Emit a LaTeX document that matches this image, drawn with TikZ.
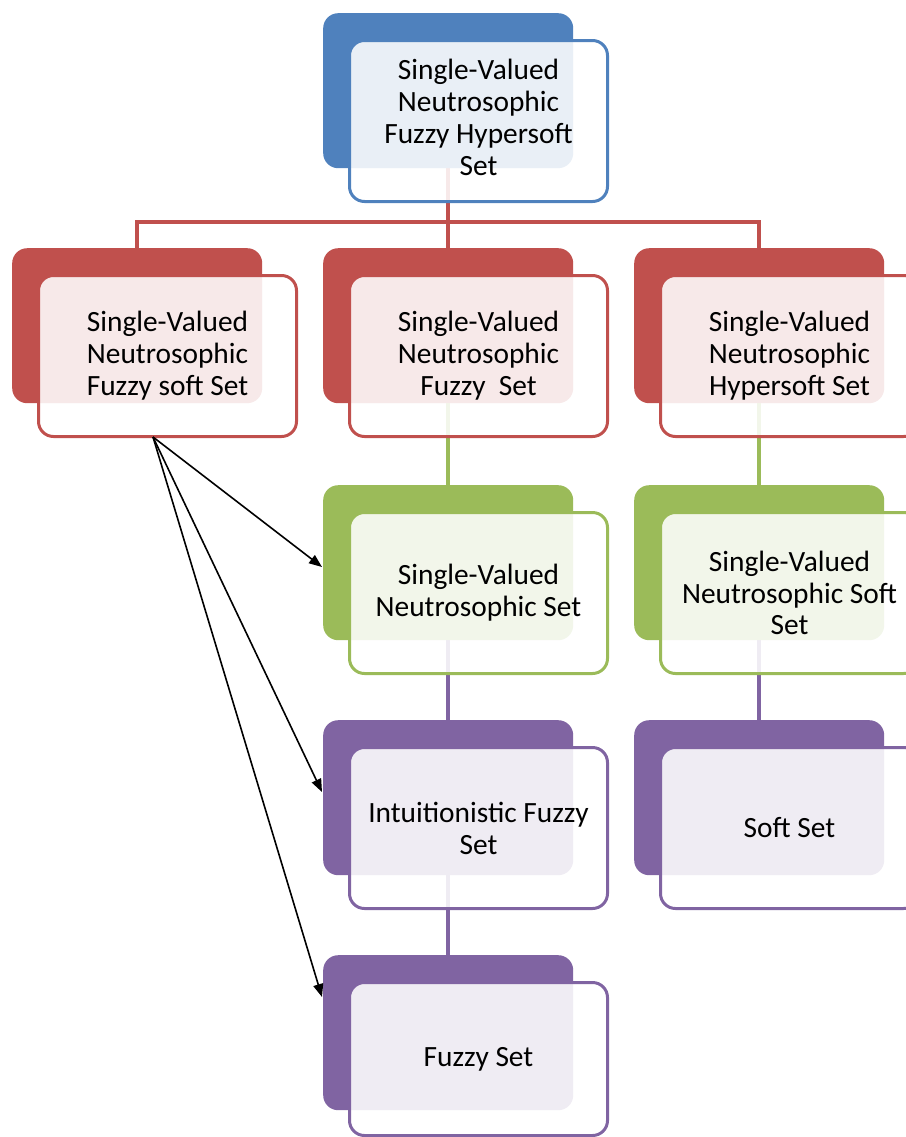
\documentclass[tikz,border=0pt]{standalone}
\usepackage{fontspec}
\setmainfont{Carlito}
\usetikzlibrary{arrows.meta}
\pgfdeclarelayer{bg}
\pgfsetlayers{bg,main}
\definecolor{cblue}{HTML}{4F81BD}
\definecolor{cred}{HTML}{C0504D}
\definecolor{cgreen}{HTML}{9BBB59}
\definecolor{cpurple}{HTML}{8064A2}
\tikzset{
  backbox/.style={rectangle, rounded corners=15bp, minimum width=250bp, minimum height=155bp,
    anchor=north west, inner sep=0pt, fill=#1},
  frontbox/.style={rectangle, rounded corners=15bp, minimum width=258bp, minimum height=161bp,
    anchor=north west, inner sep=0pt, draw=#1, line width=3bp, fill=white, fill opacity=0.88,
    text opacity=1, text=black, align=center, font=\fontsize{29.5}{32}\selectfont},
  link/.style={line width=3.5bp, draw=#1},
  relarrow/.style={line width=1.6bp, black, -{Triangle[length=13bp,width=10bp]}}
}
\begin{document}
\begin{tikzpicture}[x=1bp,y=-1bp]
\useasboundingbox (0,0) rectangle (906,1137);
\clip (0,0) rectangle (906,1137);
% back boxes
\node[backbox=cblue]   (b1)  at (323,13)  {};
\node[backbox=cred]    (b21) at (12,248)  {};
\node[backbox=cred]    (b22) at (323,248) {};
\node[backbox=cred]    (b23) at (634,248) {};
\node[backbox=cgreen]  (b32) at (323,485) {};
\node[backbox=cgreen]  (b33) at (634,485) {};
\node[backbox=cpurple] (b42) at (323,720) {};
\node[backbox=cpurple] (b43) at (634,720) {};
\node[backbox=cpurple] (b52) at (323,955) {};
% front boxes
\node[frontbox=cblue]   (f1)  at (348,39)  {\raisebox{4bp}{\begin{tabular}{@{}c@{}}Single-Valued\\Neutrosophic\\Fuzzy Hypersoft\\Set\end{tabular}}};
\node[frontbox=cred]    (f21) at (37,274)  {Single-Valued\\Neutrosophic\\Fuzzy soft Set};
\node[frontbox=cred]    (f22) at (348,274) {Single-Valued\\Neutrosophic\\Fuzzy~ Set};
\node[frontbox=cred]    (f23) at (659,274) {Single-Valued\\Neutrosophic\\Hypersoft Set};
\node[frontbox=cgreen]  (f32) at (348,511) {Single-Valued\\Neutrosophic Set};
\node[frontbox=cgreen]  (f33) at (659,511) {Single-Valued\\Neutrosophic Soft\\Set};
\node[frontbox=cpurple] (f42) at (348,746) {Intuitionistic Fuzzy\\Set};
\node[frontbox=cpurple] (f43) at (659,746) {Soft Set};
\node[frontbox=cpurple, minimum height=153bp] (f52) at (348,981) {Fuzzy Set};
% connectors
\coordinate (hub) at (b1.south |- 0,222);
\begin{pgfonlayer}{bg}
\draw[link=cred] (b1.south) -- (hub);
\draw[link=cred] (b21.north) |- (hub) -| (b23.north);
\draw[link=cred] (hub) -- (b22.north);
\draw[link=cgreen] (b22.south) -- (b32.north);
\draw[link=cgreen] (b23.south) -- (b33.north);
\draw[link=cpurple] (b32.south) -- (b42.north);
\draw[link=cpurple] (b33.south) -- (b43.north);
\draw[link=cpurple] (b42.south) -- (b52.north);
\end{pgfonlayer}
% arrows
\coordinate (src) at (153,437);
\coordinate (t3) at (322,567);
\coordinate (t4) at (322,792);
\coordinate (t5) at (322,997);
\draw[relarrow] (src) -- (t3);
\draw[relarrow] (src) -- (t4);
\draw[relarrow] (src) -- (t5);
\end{tikzpicture}
\end{document}
